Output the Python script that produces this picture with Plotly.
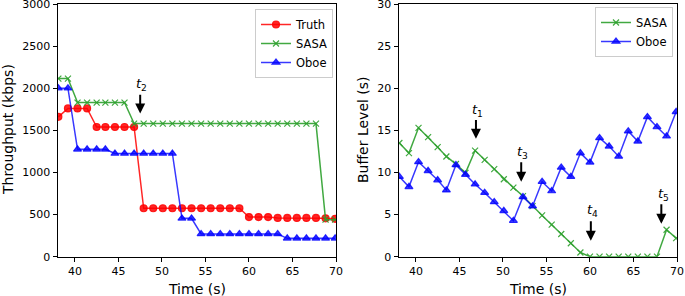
import plotly.graph_objects as go

# ---- data ----
time_s = [38.1, 39.2, 40.3, 41.4, 42.5, 43.5, 44.6, 45.7, 46.8, 47.9,
          49.0, 50.1, 51.2, 52.3, 53.4, 54.5, 55.6, 56.7, 57.8, 58.9,
          60.0, 61.1, 62.2, 63.3, 64.4, 65.5, 66.6, 67.7, 68.8, 69.9]

truth_tput = [1660, 1760, 1760, 1760, 1540, 1540, 1540, 1540, 1540, 575,
              575, 575, 575, 575, 575, 575, 575, 575, 575, 575,
              470, 470, 470, 460, 460, 460, 460, 460, 455, 450]
sasa_tput = [2115, 2115, 1830, 1830, 1830, 1830, 1830, 1830, 1580, 1580,
             1580, 1580, 1580, 1580, 1580, 1580, 1580, 1580, 1580, 1580,
             1580, 1580, 1580, 1580, 1580, 1580, 1580, 1580, 440, 440]
oboe_tput = [2000, 2000, 1275, 1275, 1275, 1275, 1225, 1225, 1225, 1225,
             1225, 1225, 1225, 455, 455, 270, 270, 270, 270, 270,
             270, 270, 270, 270, 218, 218, 218, 218, 218, 218]

sasa_buf = [13.5, 12.3, 15.3, 14.2, 13.0, 11.9, 11.0, 9.95, 12.6, 11.5,
            10.4, 9.2, 8.2, 7.2, 6.0, 4.9, 3.8, 2.7, 1.6, 0.5,
            0, 0, 0, 0, 0, 0, 0, 0, 3.2, 2.2]
oboe_buf = [9.5, 8.3, 11.25, 10.2, 9.1, 7.9, 10.9, 9.75, 8.6, 7.6,
            6.5, 5.45, 4.27, 7.1, 6.0, 8.9, 7.8, 10.6, 9.5, 12.3,
            11.2, 14.1, 13.1, 11.9, 14.9, 13.7, 16.6, 15.4, 14.3, 17.2]

x_ticks = [40, 45, 50, 55, 60, 65, 70]
tput_ticks = [0, 500, 1000, 1500, 2000, 2500, 3000]
buf_ticks = [0, 5, 10, 15, 20, 25, 30]

# annotations: (label, x, tail_y, tip_y, label_y)
left_marks = [("2", 47.5, 1940, 1700, 2040)]
right_marks = [("1", 46.9, 16.4, 14.0, 17.4),
               ("3", 52.1, 11.4, 8.9, 12.4),
               ("4", 60.1, 4.4, 1.9, 5.5),
               ("5", 68.2, 6.4, 3.9, 7.4)]

RED = "rgba(255,0,0,0.85)"
GREEN = "rgba(44,160,44,0.9)"
BLUE = "rgba(0,0,255,0.78)"
FONT = "DejaVu Sans"

fig = go.Figure()

def add(x, y, name, color, symbol, msize, xa, ya, legend):
    fig.add_trace(go.Scatter(
        x=x, y=y, name=name, mode="lines+markers",
        line=dict(color=color, width=1.5),
        marker=dict(color=color, symbol=symbol, size=msize,
                    line=dict(color=color, width=1.2)),
        xaxis=xa, yaxis=ya, legend=legend))

add(time_s, truth_tput, "Truth", RED, "circle", 7, "x", "y", "legend")
add(time_s, sasa_tput, "SASA", GREEN, "x-thin", 6, "x", "y", "legend")
add(time_s, oboe_tput, "Oboe", BLUE, "triangle-up", 7, "x", "y", "legend")
add(time_s, sasa_buf, "SASA", GREEN, "x-thin", 6, "x2", "y2", "legend2")
add(time_s, oboe_buf, "Oboe", BLUE, "triangle-up", 7, "x2", "y2", "legend2")

H, W = 296, 685
axis_common = dict(showline=True, linecolor="black", linewidth=1, mirror=True,
                   ticks="outside", ticklen=4, tickcolor="black", showgrid=False,
                   zeroline=False, automargin=False, ticklabeloverflow="allow",
                   tickfont=dict(family=FONT, size=11, color="black"))

ydom = [(H - 256.7) / H, (H - 4) / H]
legend_common = dict(xanchor="right", yanchor="top", bgcolor="white",
                     bordercolor="#cccccc", borderwidth=1,
                     font=dict(family=FONT, size=11.5, color="black"), tracegroupgap=0)
fig.update_layout(
    template="none",
    width=W, height=H, margin=dict(l=0, r=0, t=0, b=0, pad=0), autosize=False,
    plot_bgcolor="white", paper_bgcolor="white",
    font=dict(family=FONT, color="black"),
    xaxis=dict(domain=[57.5 / W, 336 / W], range=[38, 70], tickvals=x_ticks, anchor="y", **axis_common),
    yaxis=dict(domain=ydom, range=[0, 3000], tickvals=tput_ticks, anchor="x", **axis_common),
    xaxis2=dict(domain=[398.5 / W, 677 / W], range=[38, 70], tickvals=x_ticks, anchor="y2", **axis_common),
    yaxis2=dict(domain=ydom, range=[0, 30], tickvals=buf_ticks, anchor="x2", **axis_common),
    legend=dict(x=333 / W, y=1 - 9 / H, **legend_common),
    legend2=dict(x=673 / W, y=1 - 7 / H, **legend_common),
)

ann = []
for lab, xv, ty, tipy, ly in left_marks:
    ann.append(dict(x=xv, y=tipy, ax=xv, ay=ty, xref="x", yref="y", axref="x", ayref="y",
                    text="", showarrow=True, arrowhead=2, arrowsize=1, arrowwidth=2, arrowcolor="black"))
    ann.append(dict(x=xv + 0.2, y=ly, xref="x", yref="y", text="<i>t</i><sub>" + lab + "</sub>",
                    xanchor="center", yanchor="middle",
                    showarrow=False, font=dict(family=FONT, size=13, color="black")))
for lab, xv, ty, tipy, ly in right_marks:
    ann.append(dict(x=xv, y=tipy, ax=xv, ay=ty, xref="x2", yref="y2", axref="x2", ayref="y2",
                    text="", showarrow=True, arrowhead=2, arrowsize=1, arrowwidth=2, arrowcolor="black"))
    ann.append(dict(x=xv + 0.2, y=ly, xref="x2", yref="y2", text="<i>t</i><sub>" + lab + "</sub>",
                    xanchor="center", yanchor="middle",
                    showarrow=False, font=dict(family=FONT, size=13, color="black")))

# axis titles
title_font = dict(family=FONT, size=14, color="black")
ann.append(dict(x=8 / W, y=(H - 130) / H, xref="paper", yref="paper", text="Throughput (kbps)",
                textangle=-90, showarrow=False, xanchor="center", yanchor="middle", font=title_font))
ann.append(dict(x=363 / W, y=(H - 130) / H, xref="paper", yref="paper", text="Buffer Level (s)",
                textangle=-90, showarrow=False, xanchor="center", yanchor="middle", font=title_font))
ann.append(dict(x=197 / W, y=(H - 289) / H, xref="paper", yref="paper", text="Time (s)",
                showarrow=False, xanchor="center", yanchor="middle", font=title_font))
ann.append(dict(x=538 / W, y=(H - 289) / H, xref="paper", yref="paper", text="Time (s)",
                showarrow=False, xanchor="center", yanchor="middle", font=title_font))
fig.update_layout(annotations=ann)

fig.write_html("out.html", config={"displayModeBar": False},
               post_script="document.body.style.margin='0';")
